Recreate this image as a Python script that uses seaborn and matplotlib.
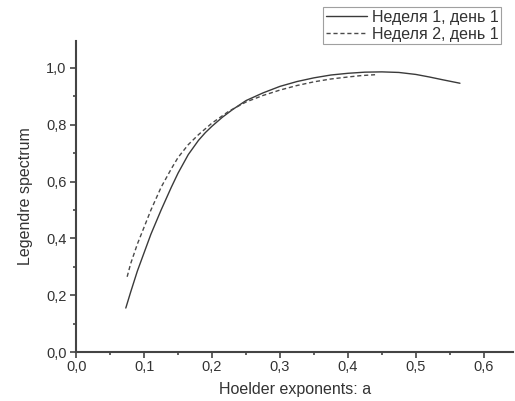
import seaborn as sns
import matplotlib.pyplot as plt
import pandas as pd
from matplotlib.ticker import FuncFormatter, MultipleLocator

# values
alpha_w1 = [0.073, 0.08, 0.09, 0.10, 0.11, 0.125, 0.14, 0.15, 0.165, 0.18, 0.19, 0.20, 0.215, 0.23, 0.25,
            0.275, 0.30, 0.325, 0.35, 0.375, 0.40, 0.425, 0.45, 0.475, 0.50, 0.52, 0.54, 0.565]
spec_w1 = [0.155, 0.21, 0.285, 0.35, 0.415, 0.50, 0.58, 0.63, 0.695, 0.745, 0.772, 0.795, 0.826, 0.853, 0.885,
           0.912, 0.935, 0.952, 0.965, 0.975, 0.981, 0.985, 0.986, 0.984, 0.977, 0.968, 0.958, 0.946]

alpha_w2 = [0.075, 0.08, 0.09, 0.10, 0.11, 0.125, 0.14, 0.15, 0.165, 0.18, 0.20, 0.225, 0.25, 0.275,
            0.30, 0.325, 0.35, 0.375, 0.40, 0.42, 0.44]
spec_w2 = [0.265, 0.31, 0.38, 0.44, 0.50, 0.58, 0.645, 0.685, 0.73, 0.765, 0.806, 0.848, 0.88, 0.903,
           0.922, 0.938, 0.951, 0.961, 0.968, 0.973, 0.976]

labels = ["Неделя 1, день 1", "Неделя 2, день 1"]

df = pd.concat([
    pd.DataFrame({"alpha": alpha_w1, "spec": spec_w1, "series": labels[0]}),
    pd.DataFrame({"alpha": alpha_w2, "spec": spec_w2, "series": labels[1]}),
])

sns.set_style("ticks")
plt.rcParams["font.family"] = ["Liberation Sans", "DejaVu Sans"]

fig = plt.figure(figsize=(5.15, 4.01), dpi=100)
ax = fig.add_axes([0.148, 0.122, 0.848, 0.776])

sns.lineplot(data=df, x="alpha", y="spec", hue="series", style="series",
             palette=["#3a3a3a", "#4a4a4a"], dashes=[(None, None), (3, 2)],
             linewidth=1.0, sort=False, estimator=None, ax=ax, legend=False)

ax.set_xlim(0, 0.643)
ax.set_ylim(0, 1.095)
ax.xaxis.set_major_locator(MultipleLocator(0.1))
ax.xaxis.set_minor_locator(MultipleLocator(0.05))
ax.yaxis.set_major_locator(MultipleLocator(0.2))
ax.yaxis.set_minor_locator(MultipleLocator(0.1))
fmt = FuncFormatter(lambda v, p: f"{v:.1f}".replace(".", ","))
ax.xaxis.set_major_formatter(fmt)
ax.yaxis.set_major_formatter(fmt)
ax.tick_params(which="major", length=4, width=1.2, colors="#444444", labelsize=10.5,
               labelcolor="#333333", pad=1.5)
ax.tick_params(axis="y", which="major", pad=3)
ax.tick_params(which="minor", length=2.5, width=1.2, colors="#444444")

for s in ["top", "right"]:
    ax.spines[s].set_visible(False)
for s in ["left", "bottom"]:
    ax.spines[s].set_color("#444444")
    ax.spines[s].set_linewidth(1.5)

ax.set_xlabel("Hoelder exponents: a", fontsize=11.5, color="#333333", labelpad=6)
ax.set_ylabel("Legendre spectrum", fontsize=11.5, color="#333333", labelpad=9)

h1, = ax.plot([], [], color="#3a3a3a", lw=1.0)
h2, = ax.plot([], [], color="#4a4a4a", lw=1.0, ls=(0, (3, 2)))
leg = fig.legend([h1, h2], labels, loc="upper right", bbox_to_anchor=(0.973, 0.982),
                 fontsize=11.5, frameon=True, fancybox=False, handlelength=2.6,
                 handletextpad=0.3, borderpad=0.15, labelspacing=0.15, borderaxespad=0)
leg.get_frame().set_edgecolor("#888888")
leg.get_frame().set_linewidth(0.8)
for t in leg.get_texts():
    t.set_color("#333333")

fig.savefig("out.png", dpi=100)
